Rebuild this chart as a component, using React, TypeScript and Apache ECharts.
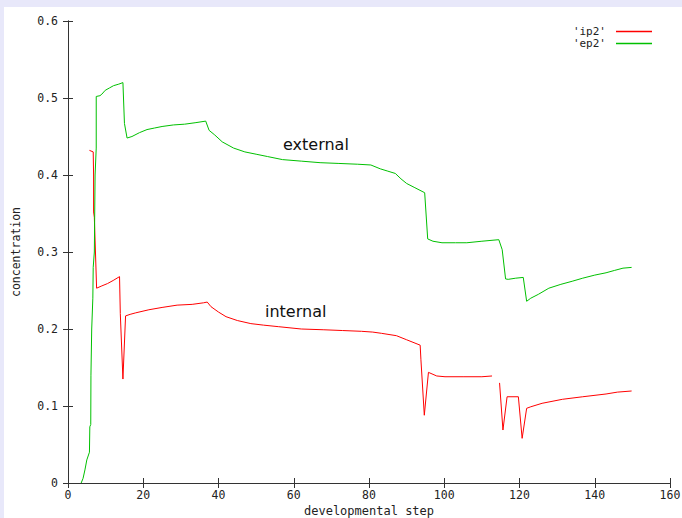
import React, { useEffect, useRef } from "react";
import * as echarts from "echarts";

// Internal concentration (ip2) per developmental step; "-" marks a break in the record.
const ip2: (number | string)[][] = [
  [5.7, 0.432], [6.7, 0.43], [6.8, 0.4], [6.8, 0.352], [7.0, 0.345], [7.3, 0.3],
  [7.6, 0.253], [9, 0.256], [10.5, 0.259], [12, 0.263], [13.7, 0.268], [13.9, 0.22],
  [14.6, 0.135], [15.3, 0.217], [16.5, 0.219], [18, 0.221], [21.5, 0.225], [25, 0.228],
  [29, 0.231], [33, 0.232], [36, 0.234], [37, 0.235], [38, 0.229], [40, 0.222],
  [42, 0.216], [45, 0.211], [48.6, 0.207], [52, 0.205], [56, 0.203], [62, 0.2],
  [68, 0.199], [73, 0.198], [78, 0.197], [81, 0.196], [83.3, 0.1944], [87.3, 0.1913],
  [90, 0.186], [93.6, 0.179], [93.8, 0.16], [94.7, 0.088], [95.8, 0.1437], [98, 0.139],
  [100.2, 0.138], [105, 0.138], [110, 0.138], [112.7, 0.139], [113.7, "-"],
  [114.7, 0.13], [115.6, 0.0688], [116.7, 0.112], [119.7, 0.112], [120.7, 0.058],
  [121.9, 0.097], [123, 0.099], [126, 0.1035], [131.4, 0.1087], [136.8, 0.112],
  [143, 0.1156], [146, 0.118], [149.8, 0.1195],
];

// External concentration (ep2) per developmental step.
const ep2: number[][] = [
  [3.5, 0], [4.0, 0.006], [4.5, 0.017], [5.0, 0.03], [5.7, 0.04], [5.8, 0.073],
  [6.05, 0.076], [6.1, 0.14], [6.3, 0.2], [6.6, 0.24], [6.7, 0.28], [7.0, 0.3],
  [7.2, 0.4], [7.5, 0.435], [7.5, 0.502], [8.5, 0.503], [9, 0.505], [9.9, 0.51],
  [11, 0.513], [12.1, 0.516], [13.5, 0.518], [14.6, 0.52], [15, 0.467], [15.7, 0.448],
  [17, 0.45], [19, 0.455], [21, 0.459], [23, 0.461], [25, 0.463], [28, 0.465],
  [31, 0.466], [34, 0.468], [36.6, 0.47], [37.5, 0.458], [39, 0.452], [41, 0.443],
  [44, 0.435], [47, 0.43], [50, 0.427], [53, 0.424], [57, 0.42], [62, 0.418],
  [67, 0.416], [72, 0.415], [77, 0.414], [80.5, 0.413], [83, 0.408], [85, 0.405],
  [87, 0.402], [88.5, 0.395], [90, 0.389], [92, 0.384], [94.8, 0.377], [95.6, 0.317],
  [97, 0.314], [99.4, 0.312], [103, 0.312], [106, 0.312], [110, 0.314], [114.5, 0.316],
  [115.4, 0.303], [116.3, 0.265], [117, 0.2645], [119, 0.266], [121, 0.267],
  [121.9, 0.236], [123, 0.24], [125, 0.245], [127.8, 0.253], [131, 0.258], [134, 0.262],
  [136.8, 0.266], [140, 0.27], [143, 0.273], [145.2, 0.276], [147.5, 0.279], [149.8, 0.28],
];

const seriesNames = ["'ip2'", "'ep2'"];
const curveLabels = ["external", "internal"];
const xAxisTitle = "developmental step";
const yAxisTitle = "concentration";

const MONO = "'DejaVu Sans Mono', monospace";
const FRAME = "#333333";

export default function App() {
  const ref = useRef<HTMLDivElement>(null);

  useEffect(() => {
    document.body.style.margin = "0";
    if (!ref.current) return;
    const chart = echarts.init(ref.current, null, { renderer: "svg" });

    const axisLabel = { color: "#222", fontFamily: MONO, fontSize: 11.5 };
    const mirrorX = {
      type: "value", min: 0, max: 160, interval: 20, position: "top",
      axisLine: { show: true, lineStyle: { color: FRAME, width: 1 } },
      axisTick: { show: true, inside: true, length: 5, lineStyle: { color: FRAME } },
      axisLabel: { show: false }, splitLine: { show: false },
    };
    const mirrorY = {
      type: "value", min: 0, max: 0.6, interval: 0.1, position: "right",
      axisLine: { show: true, lineStyle: { color: FRAME, width: 1 } },
      axisTick: { show: true, inside: true, length: 5, lineStyle: { color: FRAME } },
      axisLabel: { show: false }, splitLine: { show: false },
    };

    chart.setOption({
      animation: false,
      backgroundColor: "#ffffff",
      grid: {
        left: 64, right: 12, top: 14, bottom: 35,
        containLabel: false, outerBoundsMode: "none",
      },
      legend: {
        orient: "vertical",
        right: 30,
        top: 19,
        padding: 0,
        align: "right",
        icon: "rect",
        itemWidth: 36,
        itemHeight: 1.5,
        itemGap: 1,
        textStyle: {
          color: "#222", fontFamily: MONO, fontSize: 11, lineHeight: 11,
          padding: [0, 5, 0, 0],
        },
        data: seriesNames,
      },
      xAxis: [
        {
          type: "value", min: 0, max: 160, interval: 20, position: "bottom",
          name: xAxisTitle, nameLocation: "middle", nameGap: 22, nameMoveOverlap: false,
          nameTextStyle: { color: "#222", fontFamily: MONO, fontSize: 12 },
          axisLine: { show: true, onZero: false, lineStyle: { color: FRAME, width: 1 } },
          axisTick: { show: true, inside: true, length: 5, lineStyle: { color: FRAME } },
          axisLabel: { ...axisLabel, margin: 6 },
          splitLine: { show: false },
        },
        mirrorX,
      ],
      yAxis: [
        {
          type: "value", min: 0, max: 0.6, interval: 0.1, position: "left",
          name: yAxisTitle, nameLocation: "middle", nameGap: 46, nameRotate: 90,
          nameMoveOverlap: false,
          nameTextStyle: { color: "#222", fontFamily: MONO, fontSize: 11.5 },
          axisLine: { show: true, onZero: false, lineStyle: { color: FRAME, width: 1 } },
          axisTick: { show: true, inside: true, length: 5, lineStyle: { color: FRAME } },
          axisLabel: { ...axisLabel, margin: 10 },
          splitLine: { show: false },
        },
        mirrorY,
      ],
      series: [
        {
          name: seriesNames[0], type: "line", data: ip2, symbol: "none",
          connectNulls: false,
          lineStyle: { color: "#ff0000", width: 1 }, itemStyle: { color: "#ff0000" },
        },
        {
          name: seriesNames[1], type: "line", data: ep2, symbol: "none",
          lineStyle: { color: "#00c000", width: 1 }, itemStyle: { color: "#00c000" },
        },
      ],
      graphic: [
        {
          type: "text", left: 279, top: 129,
          style: { text: curveLabels[0], fill: "#111", font: "16px 'DejaVu Sans', sans-serif" },
        },
        {
          type: "text", left: 261, top: 296,
          style: { text: curveLabels[1], fill: "#111", font: "16px 'DejaVu Sans', sans-serif" },
        },
      ],
    });

    return () => chart.dispose();
  }, []);

  return (
    <div style={{ position: "relative", width: 682, height: 518, background: "#e8e8fa" }}>
      <div
        ref={ref}
        style={{ position: "absolute", left: 4, top: 7, width: 678, height: 511, background: "#fff" }}
      />
    </div>
  );
}
